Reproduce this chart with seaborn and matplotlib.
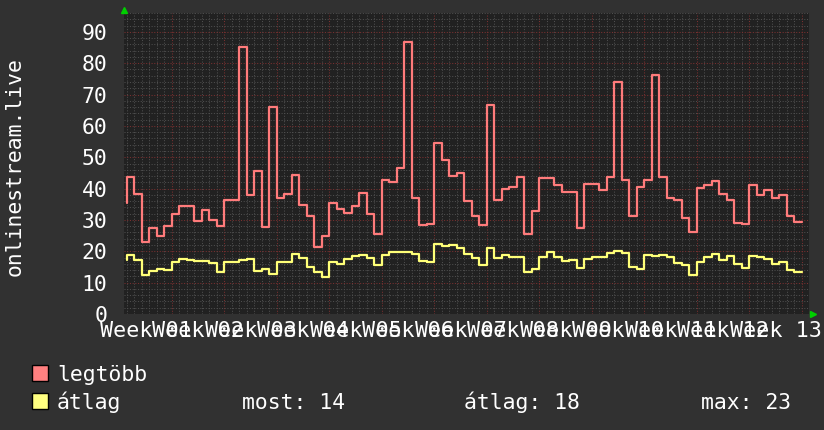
import numpy as np
import pandas as pd
import matplotlib
matplotlib.use("Agg")
import matplotlib.pyplot as plt
import seaborn as sns
from matplotlib.patches import Rectangle

# ---- data (daily steps; value i covers day i-1 .. i, first one is a partial day) ----
day_end = list(range(0, 91))
legtobb = [35.3, 43.8, 38.3, 23.1, 27.3, 25.0, 28.2, 32.0, 34.6, 34.6,
           29.8, 33.3, 30.1, 28.1, 36.3, 36.3, 85.2, 38.0, 45.7, 27.6,
           65.9, 36.9, 38.4, 44.4, 34.8, 31.1, 21.5, 25.0, 35.3, 33.4,
           32.3, 34.6, 38.7, 31.9, 25.5, 42.6, 42.2, 46.7, 86.6, 37.1,
           28.4, 28.7, 54.5, 49.1, 44.0, 45.1, 35.9, 31.1, 28.4, 66.7,
           36.2, 39.8, 40.6, 43.6, 25.5, 32.7, 43.5, 43.5, 41.2, 39.0,
           39.0, 27.3, 41.5, 41.5, 39.4, 43.8, 73.9, 42.6, 31.3, 40.4,
           42.8, 76.3, 43.8, 36.9, 36.2, 30.5, 26.0, 40.3, 41.2, 42.4,
           38.3, 36.2, 28.9, 28.7, 41.2, 37.8, 39.6, 36.9, 38.0, 31.3,
           29.2]
atlag = [17.2, 18.8, 17.2, 12.5, 13.7, 14.4, 14.0, 16.7, 17.4, 17.2,
         16.9, 16.9, 16.4, 13.5, 16.7, 16.7, 17.2, 17.4, 13.8, 14.4,
         12.7, 16.7, 16.7, 19.0, 18.0, 14.9, 13.5, 11.9, 16.5, 16.0,
         17.4, 18.6, 18.8, 17.8, 15.6, 18.8, 19.7, 19.9, 19.9, 19.0,
         17.0, 16.7, 22.4, 21.8, 22.0, 21.2, 19.0, 17.8, 15.6, 21.2,
         18.0, 18.8, 18.3, 18.3, 13.5, 14.4, 18.3, 19.9, 18.1, 17.0,
         17.2, 14.8, 17.4, 18.1, 18.3, 19.4, 20.1, 19.4, 15.1, 14.4,
         18.8, 18.5, 18.8, 18.3, 16.4, 15.6, 12.5, 16.5, 18.3, 19.0,
         17.2, 18.5, 15.9, 14.8, 18.5, 18.1, 17.4, 15.9, 16.7, 14.0,
         13.5]
week_labels = ["Week 01", "Week 02", "Week 03", "Week 04", "Week 05",
               "Week 06", "Week 07", "Week 08", "Week 09", "Week 10",
               "Week 11", "Week 12", "Week 13"]
y_ticks = [0, 10, 20, 30, 40, 50, 60, 70, 80, 90]
series_names = ["legtöbb", "átlag"]
stat_texts = ["most: 14", "átlag: 18", "max: 23"]

df = pd.DataFrame({"day": day_end, "legtöbb": legtobb, "átlag": atlag})

# ---- style ----
sns.set_style("dark")
plt.rcParams["font.family"] = ["DejaVu Sans Mono", "DejaVu Sans"]

W, H = 824, 430
CANVAS = "#313131"
BACK = "#212121"
RED = "#ff7b7b"
YEL = "#ffff78"
FS = 15.4

fig = plt.figure(figsize=(W / 100, H / 100), dpi=100, facecolor=CANVAS)
ax = fig.add_axes([124 / W, 116 / H, 685 / W, 301 / H])
ax.set_facecolor(BACK)

sns.lineplot(data=df, x="day", y="legtöbb", ax=ax, color=RED, lw=1.6,
             drawstyle="steps-pre", estimator=None, legend=False, zorder=3)
sns.lineplot(data=df, x="day", y="átlag", ax=ax, color=YEL, lw=1.6,
             drawstyle="steps-pre", estimator=None, legend=False, zorder=3)

ax.set_xlim(-0.36, 90.97)
ax.set_ylim(0, 96)

ax.set_xticks(np.arange(6, 91, 7))
ax.set_xticks(np.arange(0, 91, 1), minor=True)
ax.set_xticklabels([])
ax.set_yticks(y_ticks)
ax.set_yticks(np.arange(0, 97, 2), minor=True)
ax.set_yticklabels([str(v) for v in y_ticks], color="white", fontsize=FS)

ax.set_axisbelow(True)
ax.grid(which="minor", color="#4e4e4e", linestyle=(0, (1, 1.6)), lw=0.75)
ax.grid(which="major", color="#7a3030", linestyle=(0, (1, 1.6)), lw=0.75)
ax.tick_params(axis="x", which="major", direction="out", length=3, color="#8a3030", width=0.8)
ax.tick_params(axis="x", which="minor", direction="out", length=3, color="#5a5a5a", width=0.8)
ax.tick_params(axis="y", which="both", direction="out", length=2, color="#5a5a5a", width=0.8, pad=10)
for s in ax.spines.values():
    s.set_visible(False)
ax.set_xlabel("")
ax.set_ylabel("")

# week labels (overlapping, as in the original)
for i, lab in enumerate(week_labels):
    ax.text(2.5 + 7 * i, -23 / 301, lab, transform=ax.get_xaxis_transform(),
            ha="center", va="baseline", color="white", fontsize=15.7)

# axis arrows
ax.plot([0], [1 + 3 / 301], marker="^", color="#00d000", markersize=5,
        transform=ax.transAxes, clip_on=False, zorder=5)
ax.plot([1 + 4 / 685], [0], marker=">", color="#00d000", markersize=5,
        transform=ax.transAxes, clip_on=False, zorder=5)

# vertical axis title
fig.text(15 / W, 1 - 167 / H, "onlinestream.live", rotation=90, ha="center",
         va="center", color="white", fontsize=FS)

# legend
for (name, col, ytop) in [(series_names[0], "#ff8080", 365), (series_names[1], "#ffff80", 393)]:
    fig.patches.append(Rectangle((32 / W, 1 - (ytop + 16) / H), 16 / W, 16 / H,
                                 transform=fig.transFigure, facecolor=col,
                                 edgecolor="black", lw=1))
    fig.text(57 / W, 1 - (ytop + 16) / H, name, ha="left", va="baseline",
             color="white", fontsize=FS)
for txt, x in zip(stat_texts, [242, 464, 701]):
    fig.text(x / W, 1 - 409 / H, txt, ha="left", va="baseline", color="white", fontsize=FS)

fig.savefig("out.png", dpi=100, facecolor=CANVAS)
